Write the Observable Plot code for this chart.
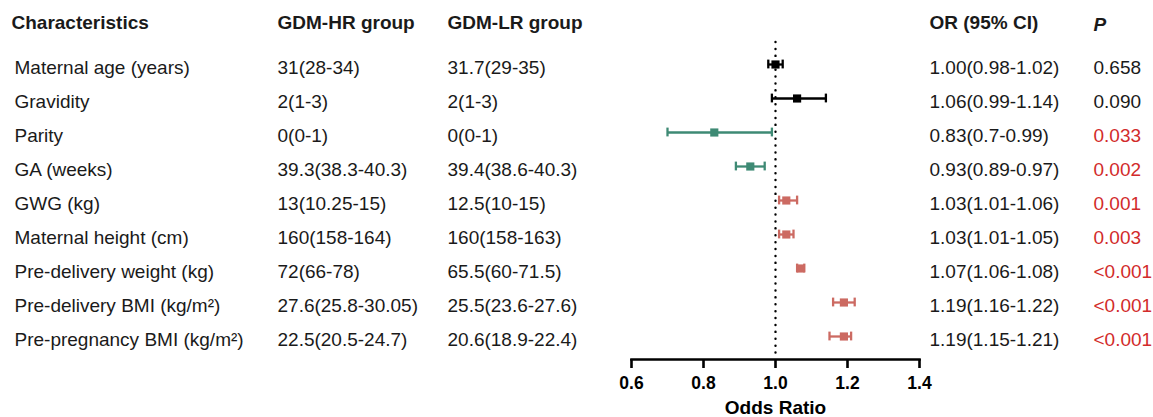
<!DOCTYPE html>
<html>
<head>
<meta charset="utf-8">
<script src="https://cdn.jsdelivr.net/npm/d3@7"></script>
<script src="https://cdn.jsdelivr.net/npm/@observablehq/plot@0.6"></script>
<style>
  html, body { margin: 0; padding: 0; background: #fff; }
  #chart svg { display: block; font-family: "Liberation Sans", Arial, sans-serif; }
</style>
</head>
<body>
<div id="chart"></div>
<script>
// ---- data ----
const characteristics = [
  "Maternal age (years)", "Gravidity", "Parity", "GA (weeks)", "GWG (kg)",
  "Maternal height (cm)", "Pre-delivery weight (kg)",
  "Pre-delivery BMI (kg/m²)", "Pre-pregnancy BMI (kg/m²)"
];
const hrGroup = ["31(28-34)", "2(1-3)", "0(0-1)", "39.3(38.3-40.3)", "13(10.25-15)",
  "160(158-164)", "72(66-78)", "27.6(25.8-30.05)", "22.5(20.5-24.7)"];
const lrGroup = ["31.7(29-35)", "2(1-3)", "0(0-1)", "39.4(38.6-40.3)", "12.5(10-15)",
  "160(158-163)", "65.5(60-71.5)", "25.5(23.6-27.6)", "20.6(18.9-22.4)"];
const oddsRatio = [1.00, 1.06, 0.83, 0.93, 1.03, 1.03, 1.07, 1.19, 1.19];
const ciLow     = [0.98, 0.99, 0.70, 0.89, 1.01, 1.01, 1.06, 1.16, 1.15];
const ciHigh    = [1.02, 1.14, 0.99, 0.97, 1.06, 1.05, 1.08, 1.22, 1.21];
const orText = ["1.00(0.98-1.02)", "1.06(0.99-1.14)", "0.83(0.7-0.99)", "0.93(0.89-0.97)",
  "1.03(1.01-1.06)", "1.03(1.01-1.05)", "1.07(1.06-1.08)", "1.19(1.16-1.22)", "1.19(1.15-1.21)"];
const pValues = ["0.658", "0.090", "0.033", "0.002", "0.001", "0.003", "<0.001", "<0.001", "<0.001"];
const headers = ["Characteristics", "GDM-HR group", "GDM-LR group", "OR (95% CI)", "P"];
const xTicks = [0.6, 0.8, 1.0, 1.2, 1.4];
const xLabel = "Odds Ratio";

// ---- table built from arrays ----
const rows = characteristics.map((c, i) => {
  const pNum = parseFloat(pValues[i].replace("<", ""));
  const sig = pNum < 0.05;
  return {
    label: c, hr: hrGroup[i], lr: lrGroup[i], or: oddsRatio[i],
    lo: ciLow[i], hi: ciHigh[i], orText: orText[i], p: pValues[i],
    sig, kind: !sig ? "ns" : (oddsRatio[i] < 1 ? "lower" : "higher")
  };
});

// ---- layout (styles) ----
const W = 1153, H = 417;
const mL = 631, mR = W - 919, mT = 42, mB = H - 359;
const FONT = 19;
const colX = {label: 14, hr: 277, lr: 447, or: 929, p: 1093};
const dxOf = (px) => px - mL;
const ink = "#1a1a1a";
const kindColor = {ns: "#000000", lower: "#3e8a74", higher: "#cc6a62"};
const pRed = "#d22b2b";
const textDy = 3;

const chart = Plot.plot({
  width: W, height: H,
  marginLeft: mL, marginRight: mR, marginTop: mT, marginBottom: mB,
  x: {domain: [0.6, 1.4], axis: null},
  y: {type: "band", domain: characteristics, range: [45.9, 353.1], padding: 0, axis: null},
  style: {fontFamily: '"Liberation Sans", Arial, sans-serif', color: ink, background: "#fff"},
  marks: [
    // reference line at OR = 1
    Plot.ruleX([1], {stroke: "#000", strokeWidth: 2.4, strokeDasharray: "0.1,6.8", strokeLinecap: "round"}),
    // x axis
    Plot.frame({anchor: "bottom", stroke: "#000", strokeWidth: 2.6}),
    Plot.axisX({
      ticks: xTicks, tickFormat: d => d.toFixed(1), tickSize: 9, tickPadding: 8,
      strokeWidth: 2.6, stroke: "#000", fontSize: 17.5, fontWeight: "bold", fill: "#000", label: null
    }),
    Plot.text([xLabel], {frameAnchor: "bottom", dy: 54.5, fontSize: 19, fontWeight: "bold", fill: "#000", lineAnchor: "bottom"}),
    // CIs
    Plot.ruleY(rows, {y: "label", x1: "lo", x2: "hi", stroke: d => kindColor[d.kind], strokeWidth: 2.3}),
    Plot.tickX(rows, {y: "label", x: "lo", stroke: d => kindColor[d.kind], strokeWidth: 2.3, insetTop: 12.6, insetBottom: 12.6}),
    Plot.tickX(rows, {y: "label", x: "hi", stroke: d => kindColor[d.kind], strokeWidth: 2.3, insetTop: 12.6, insetBottom: 12.6}),
    Plot.dot(rows, {y: "label", x: "or", symbol: "square", r: 4.6, fill: d => kindColor[d.kind], stroke: "none"}),
    // headers
    Plot.text([headers[0]], {frameAnchor: "top-left", dx: dxOf(11), dy: -20, textAnchor: "start", fontSize: FONT, fontWeight: "bold", fill: ink, lineAnchor: "middle"}),
    Plot.text([headers[1]], {frameAnchor: "top-left", dx: dxOf(colX.hr), dy: -20, textAnchor: "start", fontSize: FONT, fontWeight: "bold", fill: ink, lineAnchor: "middle"}),
    Plot.text([headers[2]], {frameAnchor: "top-left", dx: dxOf(colX.lr), dy: -20, textAnchor: "start", fontSize: FONT, fontWeight: "bold", fill: ink, lineAnchor: "middle"}),
    Plot.text([headers[3]], {frameAnchor: "top-left", dx: dxOf(colX.or), dy: -20, textAnchor: "start", fontSize: FONT, fontWeight: "bold", fill: ink, lineAnchor: "middle"}),
    Plot.text([headers[4]], {frameAnchor: "top-left", dx: dxOf(colX.p), dy: -18, textAnchor: "start", fontSize: FONT, fontWeight: "bold", fontStyle: "italic", fill: ink, lineAnchor: "middle"}),
    // table columns
    Plot.text(rows, {y: "label", text: "label", frameAnchor: "left", dx: dxOf(colX.label), dy: textDy, textAnchor: "start", fontSize: FONT, fill: ink}),
    Plot.text(rows, {y: "label", text: "hr", frameAnchor: "left", dx: dxOf(colX.hr), dy: textDy, textAnchor: "start", fontSize: FONT, fill: ink}),
    Plot.text(rows, {y: "label", text: "lr", frameAnchor: "left", dx: dxOf(colX.lr), dy: textDy, textAnchor: "start", fontSize: FONT, fill: ink}),
    Plot.text(rows, {y: "label", text: "orText", frameAnchor: "left", dx: dxOf(colX.or), dy: textDy, textAnchor: "start", fontSize: FONT, fill: ink}),
    Plot.text(rows, {y: "label", text: "p", frameAnchor: "left", dx: dxOf(colX.p), dy: textDy, textAnchor: "start", fontSize: FONT, fill: d => d.sig ? pRed : ink})
  ]
});
document.getElementById("chart").appendChild(chart);
</script>
</body>
</html>
